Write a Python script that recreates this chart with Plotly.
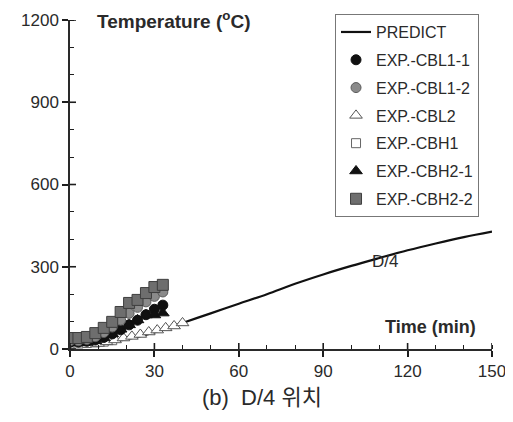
import plotly.graph_objects as go

# ---- data ----
t_pred = [0, 10, 20, 30, 40, 50, 60, 70, 80, 90, 100, 110, 120, 130, 140, 150]
T_pred = [20, 22, 35, 60, 95, 130, 165, 200, 238, 272, 303, 332, 360, 385, 408, 428]

t_exp = [0, 3, 6, 9, 12, 15, 18, 21, 24, 27, 30, 33]
T_cbl1_1 = [25, 25, 28, 33, 42, 55, 70, 88, 105, 125, 145, 160]
T_cbl1_2 = [30, 30, 35, 45, 60, 80, 105, 130, 152, 172, 192, 208]
T_cbh2_1 = [22, 22, 24, 30, 40, 55, 72, 88, 106, 124, 124, 131]
T_cbh2_2 = [40, 40, 44, 58, 77, 99, 135, 168, 179, 204, 226, 234]

t_cbl2 = [10, 13, 16, 19, 22, 25, 28, 31, 34, 37, 40]
T_cbl2 = [20, 26, 33, 40, 46, 53, 62, 69, 77, 84, 95]

t_cbh1 = [0, 3, 6, 9, 12, 15]
T_cbh1 = [20, 20, 22, 24, 27, 32]

x_ticks = [0, 30, 60, 90, 120, 150]
y_ticks = [0, 300, 600, 900, 1200]

FONT = "Liberation Sans, Arial, sans-serif"
INK = "#2a2a2a"
TICK = "#1e1e1e"

fig = go.Figure()
fig.add_trace(go.Scatter(x=t_pred, y=T_pred, mode="lines", name="PREDICT",
                         line=dict(color="#111", width=2.2), line_shape="spline",
                         legendrank=1, legendgroup="a"))
fig.add_trace(go.Scatter(x=t_cbh1, y=T_cbh1, mode="markers", name="EXP.-CBH1",
                         marker=dict(symbol="square", size=9, color="white",
                                     line=dict(color="#666", width=1)),
                         legendrank=5, legendgroup="e"))
fig.add_trace(go.Scatter(x=t_cbl2, y=T_cbl2, mode="markers", name="EXP.-CBL2",
                         marker=dict(symbol="triangle-up", size=11, color="white",
                                     line=dict(color="#555", width=1)),
                         legendrank=4, legendgroup="d"))
fig.add_trace(go.Scatter(x=t_exp, y=T_cbl1_1, mode="markers", name="EXP.-CBL1-1",
                         marker=dict(symbol="circle", size=10, color="#111",
                                     line=dict(color="#111", width=1)),
                         legendrank=2, legendgroup="b"))
fig.add_trace(go.Scatter(x=t_exp, y=T_cbh2_1, mode="markers", name="EXP.-CBH2-1",
                         marker=dict(symbol="triangle-up", size=11, color="#111",
                                     line=dict(color="#111", width=1)),
                         legendrank=6, legendgroup="f"))
fig.add_trace(go.Scatter(x=t_exp, y=T_cbl1_2, mode="markers", name="EXP.-CBL1-2",
                         marker=dict(symbol="circle", size=10, color="#8a8a8a",
                                     line=dict(color="#5a5a5a", width=1)),
                         legendrank=3, legendgroup="c"))
fig.add_trace(go.Scatter(x=t_exp, y=T_cbh2_2, mode="markers", name="EXP.-CBH2-2",
                         marker=dict(symbol="square", size=11, color="#6e6e6e",
                                     line=dict(color="#3e3e3e", width=1)),
                         legendrank=7, legendgroup="g"))

fig.update_layout(
    width=505, height=414,
    margin=dict(l=62, r=21, t=12, b=73, autoexpand=False),
    paper_bgcolor="white", plot_bgcolor="white",
    font=dict(family=FONT, color=INK),
    xaxis=dict(range=[0, 150], tickmode="array", tickvals=x_ticks, ticks="outside", ticklen=6,
               tickcolor=TICK, tickwidth=1.6, showline=True, linecolor=INK, linewidth=1.5,
               tickfont=dict(size=17, color=INK), showgrid=False, zeroline=False,
               minor=dict(tickmode="linear", tick0=0, dtick=10, ticks="inside", ticklen=4,
                          tickcolor=TICK, tickwidth=1.3, showgrid=False)),
    yaxis=dict(range=[0, 1200], tickmode="array", tickvals=y_ticks, ticks="outside", ticklen=6,
               tickcolor=TICK, tickwidth=1.6, showline=True, linecolor=INK, linewidth=1.5,
               tickfont=dict(size=17, color=INK), showgrid=False, zeroline=False,
               minor=dict(tickmode="linear", tick0=0, dtick=100, ticks="inside", ticklen=4,
                          tickcolor=TICK, tickwidth=1.3, showgrid=False)),
    legend=dict(x=0.628, y=1.018, xanchor="left", yanchor="top",
                bordercolor="#777", borderwidth=1, bgcolor="white",
                font=dict(size=16, color=INK, family=FONT), maxheight=400,
                traceorder="grouped", tracegroupgap=4, itemwidth=30),
    showlegend=True,
)

# inner halves of the crossing major ticks, placed at the tick values
for tv in x_ticks:
    fig.add_shape(type="line", xref="x", yref="y", x0=tv, x1=tv, ysizemode="pixel",
                  yanchor=0, y0=0, y1=6, line=dict(color=TICK, width=1.6), layer="above")
for tv in y_ticks:
    fig.add_shape(type="line", xref="x", yref="y", y0=tv, y1=tv, xsizemode="pixel",
                  xanchor=0, x0=0, x1=6, line=dict(color=TICK, width=1.6), layer="above")

fig.add_annotation(x=9, y=1200, xref="x", yref="y", text="<b>Temperature (<sup>o</sup>C)</b>",
                   showarrow=False, xanchor="left", yanchor="middle",
                   font=dict(size=19, color=INK))
fig.add_annotation(x=145, y=80, xref="x", yref="y", text="<b>Time (min)</b>",
                   showarrow=False, xanchor="right", yanchor="middle",
                   font=dict(size=18, color=INK))
fig.add_annotation(x=112, y=318, xref="x", yref="y", text="D/4",
                   showarrow=False, xanchor="center", yanchor="middle",
                   font=dict(size=17, color=INK))
fig.add_annotation(x=0.455, y=-0.146, xref="paper", yref="paper", text="(b)  D/4 위치",
                   showarrow=False, xanchor="center", yanchor="middle",
                   font=dict(size=22, color=INK, family="Liberation Sans, Noto Sans CJK KR"))

fig.write_html("out.html")
